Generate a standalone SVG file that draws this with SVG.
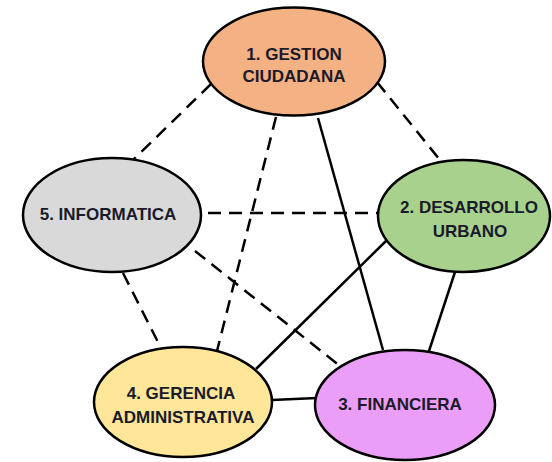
<svg xmlns="http://www.w3.org/2000/svg" width="552" height="462" viewBox="0 0 552 462">
<style>
.c{stroke:#000;stroke-width:2.5;fill:none}
.d{stroke-dasharray:13 8}
.n{stroke:#000;stroke-width:2.5}
.t{font-family:"Liberation Sans",Arial,sans-serif;font-weight:bold;font-size:17px;fill:#1a1a2a;text-anchor:middle}
</style>
<rect width="552" height="462" fill="#fff"/>
<g id="connectors">
<line class="c d" x1="211" y1="84" x2="133" y2="160"/>
<line class="c d" x1="377" y1="82" x2="440" y2="160"/>
<line class="c d" x1="276" y1="117" x2="217" y2="351"/>
<line class="c" x1="318" y1="118" x2="383" y2="350"/>
<line class="c d" x1="208" y1="213" x2="380" y2="213" stroke-dasharray="3 10 13 8 13 8 13 8 13 8 13 8 13 8 13 8 13 8"/>
<line class="c d" x1="195" y1="251" x2="340" y2="366"/>
<line class="c d" x1="123" y1="273" x2="162" y2="350"/>
<line class="c" x1="387" y1="240" x2="256" y2="369"/>
<line class="c" x1="455" y1="272" x2="428" y2="354"/>
<line class="c" x1="272" y1="400" x2="317" y2="398"/>
</g>
<g id="node1">
<ellipse class="n" cx="294" cy="61.5" rx="91" ry="54" fill="#F4B183"/>
<text class="t" x="294" y="60">1. GESTION</text>
<text class="t" x="294" y="82">CIUDADANA</text>
</g>
<g id="node2">
<ellipse class="n" cx="464" cy="216" rx="86" ry="56" fill="#A9D18E"/>
<text class="t" x="469" y="213">2. DESARROLLO</text>
<text class="t" x="470" y="237">URBANO</text>
</g>
<g id="node3">
<ellipse class="n" cx="405" cy="405" rx="90" ry="55" fill="#EA9EF7"/>
<text class="t" x="400" y="410">3. FINANCIERA</text>
</g>
<g id="node4">
<ellipse class="n" cx="183" cy="402" rx="89" ry="55" fill="#FFE699"/>
<text class="t" x="181" y="399">4. GERENCIA</text>
<text class="t" x="183" y="423">ADMINISTRATIVA</text>
</g>
<g id="node5">
<ellipse class="n" cx="112" cy="215" rx="89" ry="57" fill="#D9D9D9"/>
<text class="t" x="108" y="220">5. INFORMATICA</text>
</g>
</svg>
